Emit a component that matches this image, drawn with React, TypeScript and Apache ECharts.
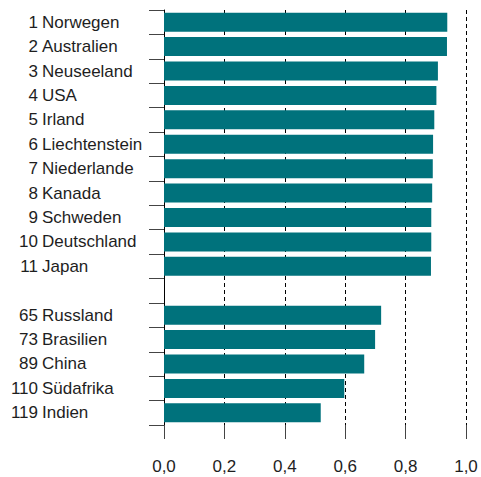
import React, { useEffect, useRef } from "react";
import * as echarts from "echarts";

const ranks = ["1", "2", "3", "4", "5", "6", "7", "8", "9", "10", "11", "", "65", "73", "89", "110", "119"];
const countries = [
  "Norwegen", "Australien", "Neuseeland", "USA", "Irland", "Liechtenstein", "Niederlande",
  "Kanada", "Schweden", "Deutschland", "Japan", "", "Russland", "Brasilien", "China", "Südafrika", "Indien",
];
const values: (number | null)[] = [
  0.938, 0.937, 0.907, 0.902, 0.895, 0.891, 0.890, 0.888, 0.885, 0.885, 0.884,
  null, 0.719, 0.699, 0.663, 0.597, 0.519,
];
const xTicks = [0, 0.2, 0.4, 0.6, 0.8, 1.0];

const FONT = "Liberation Sans";
const TXT = "#1e1e1e";

export default function App() {
  const ref = useRef<HTMLDivElement>(null);
  useEffect(() => {
    if (!ref.current) return;
    const chart = echarts.init(ref.current, null, { renderer: "svg" });
    chart.setOption({
      animation: false,
      grid: { left: 164, top: 10, right: 15, height: 415 },
      xAxis: {
        type: "value",
        min: 0,
        max: 1,
        interval: 0.2,
        axisLine: { show: false },
        axisTick: { show: true, length: 14, lineStyle: { color: "#444", width: 1 } },
        axisLabel: {
          margin: 33,
          fontFamily: FONT,
          fontSize: 17,
          color: TXT,
          formatter: (v: number) => {
            const t = xTicks.find((x) => Math.abs(x - v) < 1e-9);
            return t === undefined ? "" : t.toFixed(1).replace(".", ",");
          },
        },
        splitLine: {
          show: true,
          lineStyle: { color: "#000", width: 1, type: [4, 3] },
        },
      },
      yAxis: [
        {
          type: "category",
          inverse: true,
          data: countries,
          axisLine: { show: true, lineStyle: { color: "#000", width: 1 } },
          axisTick: { show: true, length: 15, lineStyle: { color: "#444", width: 1 } },
          axisLabel: {
            margin: 122,
            align: "left",
            interval: 0,
            fontFamily: FONT,
            fontSize: 17,
            color: TXT,
          },
        },
        {
          type: "category",
          inverse: true,
          position: "left",
          data: ranks,
          axisLine: { show: false },
          axisTick: { show: false },
          axisLabel: {
            margin: 126,
            align: "right",
            interval: 0,
            fontFamily: FONT,
            fontSize: 17,
            color: TXT,
          },
        },
      ],
      series: [
        {
          type: "bar",
          data: values.map((v) => (v === null ? "-" : v)),
          barWidth: 19,
          itemStyle: { color: "#00727c" },
        },
      ],
    });
    return () => chart.dispose();
  }, []);
  return (
    <div
      ref={ref}
      style={{ position: "absolute", left: 0, top: 0, width: 481, height: 477 }}
    />
  );
}
